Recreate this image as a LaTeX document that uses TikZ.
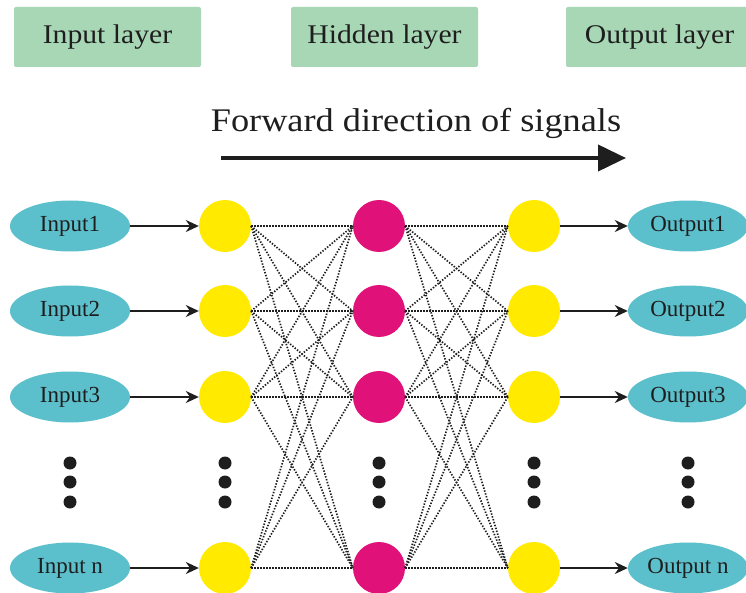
\documentclass[tikz,border=0pt]{standalone}
\usepackage{fontspec}
\setmainfont{Liberation Serif}
\usetikzlibrary{arrows.meta,shapes.geometric}
\definecolor{hdrgreen}{RGB}{168,215,181}
\definecolor{teal}{RGB}{92,192,204}
\definecolor{yel}{RGB}{255,234,0}
\definecolor{mag}{RGB}{224,18,122}
\definecolor{ink}{RGB}{30,30,30}
\newcommand{\wdtext}[1]{\scalebox{1.1}[1]{#1}}
\begin{document}
\begin{tikzpicture}[x=1pt,y=-1pt,
  hdr/.style={fill=hdrgreen, rounded corners=2pt, minimum width=187pt, minimum height=60pt, inner sep=0pt, text=ink, font=\fontsize{27}{30}\selectfont},
  io/.style={ellipse, fill=teal, minimum width=120pt, minimum height=51pt, inner sep=0pt, text=ink, font=\fontsize{23}{26}\selectfont},
  yn/.style={circle, fill=yel, minimum size=52pt, inner sep=0pt},
  mn/.style={circle, fill=mag, minimum size=52pt, inner sep=0pt},
  dotn/.style={circle, fill=ink, minimum size=13pt, inner sep=0pt},
  conn/.style={draw=ink, line width=1.8pt, -{Stealth[length=13pt,width=12pt]}},
  dotline/.style={draw=ink, line width=1.7pt, dash pattern=on 1.4pt off 1.6pt},
  bigarrow/.style={draw=ink, line width=4pt, -{Triangle[length=28pt,width=26pt]}}
]
\useasboundingbox (0,0) rectangle (746,593);
\fill[white] (0,0) rectangle (746,593);

% header boxes
\node[hdr] (hin) at (107.5,37) {\wdtext{Input layer}};
\node[hdr] (hhid) at (384.5,37) {\wdtext{Hidden layer}};
\node[hdr] (hout) at (659.5,37) {\wdtext{Output layer}};

% forward direction
\node[text=ink, font=\fontsize{33}{36}\selectfont, inner sep=0pt] (fwd) at (416,123) {\wdtext{Forward direction of signals}};
\coordinate (fa) at (221,158);
\coordinate (fb) at (626,158);
\draw[bigarrow] (fa) -- (fb);

% layers
\foreach \r/\y/\lab in {1/226/1, 2/311/2, 3/397/3, n/568/{ n}} {
  \node[io] (in\r) at (70,\y) {Input\lab};
  \node[yn] (a\r) at (225,\y) {};
  \node[mn] (h\r) at (379,\y) {};
  \node[yn] (b\r) at (534,\y) {};
  \node[io] (out\r) at (688,\y) {Output\lab};
  \draw[conn] (in\r) -- (a\r);
  \draw[conn] (b\r) -- (out\r);
}

% dotted full connections
\foreach \i in {1,2,3,n} {
  \foreach \j in {1,2,3,n} {
    \draw[dotline] (a\i.east) -- (h\j.west);
    \draw[dotline] (h\i.east) -- (b\j.west);
  }
}

% ellipsis dots
\foreach \c/\x in {i/70, a/225, h/379, b/534, o/688} {
  \node[dotn] (d\c1) at (\x,463) {};
  \node[dotn] (d\c2) at (\x,482) {};
  \node[dotn] (d\c3) at (\x,502) {};
}
\end{tikzpicture}
\end{document}
